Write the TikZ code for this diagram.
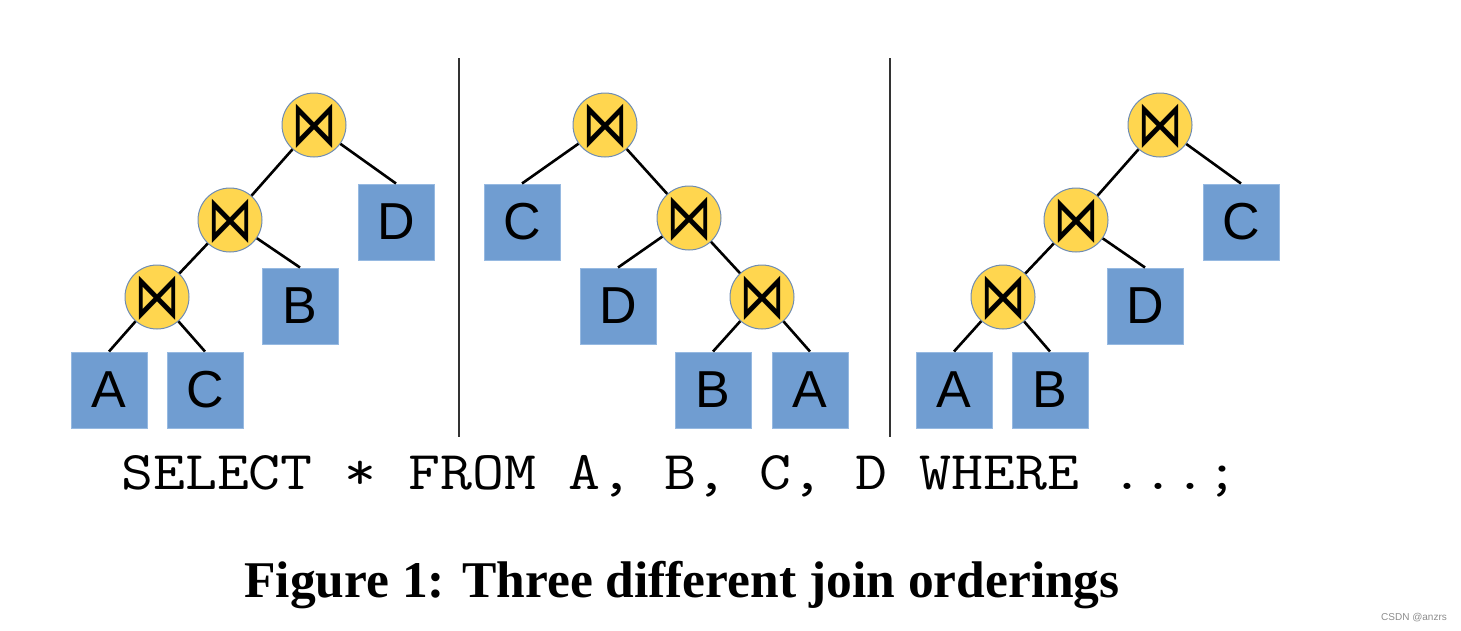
\documentclass[tikz,border=0pt]{standalone}
\usepackage{graphicx}
\usepackage{fontspec}
\setmainfont{Liberation Serif}
\newfontfamily\boxfont{Liberation Sans}
\newfontfamily\symfont{DejaVu Sans}
\definecolor{joinfill}{RGB}{255,214,79}
\definecolor{joinedge}{RGB}{110,140,180}
\definecolor{relfill}{RGB}{112,157,209}
\definecolor{reledge}{RGB}{150,185,225}
\newcommand{\joinsym}{\smash{\makebox[0pt]{\raisebox{-0.5\height}{\scalebox{1.0}[1.4]{⋈}}}}}
\begin{document}
\begin{tikzpicture}[x=1pt,y=-1pt,
  joinnode/.style={circle,fill=joinfill,draw=joinedge,line width=1pt,minimum size=64pt,inner sep=0pt,
     font=\symfont\fontsize{46}{46}\selectfont},
  relnode/.style={rectangle,fill=relfill,draw=reledge,line width=1pt,minimum size=76pt,inner sep=0pt,
     font=\boxfont\fontsize{52}{52}\selectfont},
  edge/.style={line width=2.6pt,black},
  divider/.style={line width=1.5pt,black!80}]
\useasboundingbox (0,0) rectangle (1461,630);
% dividers
\coordinate (d1t) at (459,58); \coordinate (d1b) at (459,437);
\coordinate (d2t) at (890,58); \coordinate (d2b) at (890,437);
\draw[divider] (d1t) -- (d1b);
\draw[divider] (d2t) -- (d2b);
% Tree 1
\node[joinnode] (a1) at (314,125) {\joinsym};
\node[joinnode] (a2) at (230,220) {\joinsym};
\node[joinnode] (a3) at (157,297) {\joinsym};
\node[relnode] (aD) at (396,222) {D};
\node[relnode] (aB) at (300,306) {B};
\node[relnode] (aA) at (109,390) {A};
\node[relnode] (aC) at (205,390) {C};
\draw[edge] (a1) -- (a2);
\draw[edge] (a1) -- (aD.north);
\draw[edge] (a2) -- (a3);
\draw[edge] (a2) -- (aB.north);
\draw[edge] (a3) -- (aA.north);
\draw[edge] (a3) -- (aC.north);
% Tree 2
\node[joinnode] (b1) at (605,125) {\joinsym};
\node[joinnode] (b2) at (689,218) {\joinsym};
\node[joinnode] (b3) at (762,297) {\joinsym};
\node[relnode] (bC) at (522,222) {C};
\node[relnode] (bD) at (618,306) {D};
\node[relnode] (bB) at (713,390) {B};
\node[relnode] (bA) at (810,390) {A};
\draw[edge] (b1) -- (bC.north);
\draw[edge] (b1) -- (b2);
\draw[edge] (b2) -- (bD.north);
\draw[edge] (b2) -- (b3);
\draw[edge] (b3) -- (bB.north);
\draw[edge] (b3) -- (bA.north);
% Tree 3
\node[joinnode] (c1) at (1160,125) {\joinsym};
\node[joinnode] (c2) at (1076,220) {\joinsym};
\node[joinnode] (c3) at (1003,297) {\joinsym};
\node[relnode] (cC) at (1241,222) {C};
\node[relnode] (cD) at (1145,306) {D};
\node[relnode] (cA) at (954,390) {A};
\node[relnode] (cB) at (1050,390) {B};
\draw[edge] (c1) -- (c2);
\draw[edge] (c1) -- (cC.north);
\draw[edge] (c2) -- (c3);
\draw[edge] (c2) -- (cD.north);
\draw[edge] (c3) -- (cA.north);
\draw[edge] (c3) -- (cB.north);
% SQL
\node[font=\ttfamily\fontsize{62}{62}\selectfont,anchor=base,inner sep=0pt] (sql) at (680,489) {\scalebox{1}[0.88]{SELECT * FROM A, B, C, D WHERE ...;}};
% caption
\node[font=\bfseries\fontsize{51.5}{51.5}\selectfont,anchor=base,inner sep=0pt] (cap) at (682,597) {Figure 1: Three different join orderings};
% watermark
\node[font=\boxfont\fontsize{10}{10}\selectfont,text=black!45,anchor=base,inner sep=0pt] (wm) at (1414,620) {CSDN @anzrs};
\end{tikzpicture}
\end{document}
